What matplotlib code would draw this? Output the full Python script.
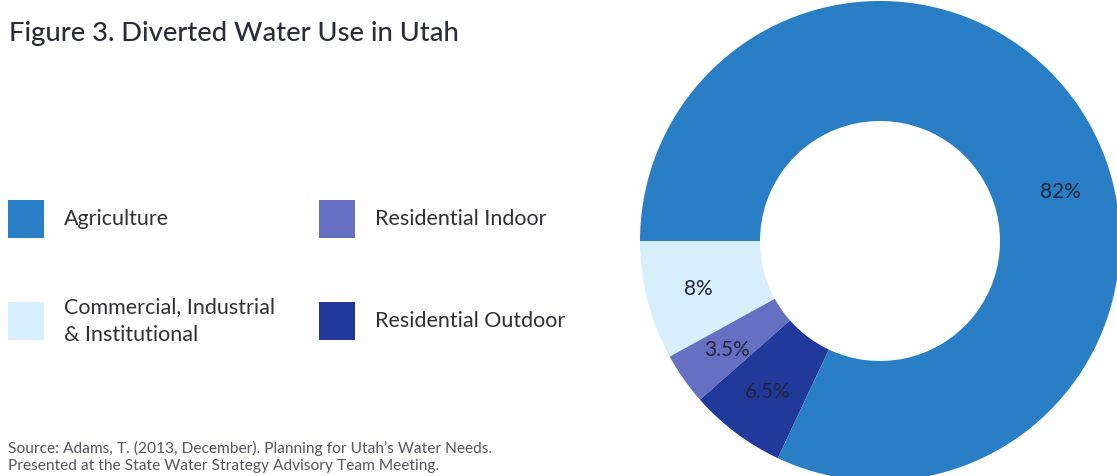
import matplotlib.pyplot as plt
from matplotlib.patches import Rectangle
import numpy as np

W, H = 1117, 477

# wedge order, counter-clockwise from 9 o'clock
categories = ["Commercial, Industrial\n& Institutional", "Residential Indoor",
              "Residential Outdoor", "Agriculture"]
shares = [8, 3.5, 6.5, 82]
colors = ["#d6effb", "#6670c2", "#20399a", "#2a7ec6"]

# legend layout: (column, row) for each category
legend_slots = [(0, 1), (1, 0), (1, 1), (0, 0)]

title = "Figure 3. Diverted Water Use in Utah"
source = ("Source: Adams, T. (2013, December). Planning for Utah\u2019s Water Needs.\n"
          "Presented at the State Water Strategy Advisory Team Meeting.")

plt.rcParams["font.family"] = ["Lato", "DejaVu Sans"]


def fx(x):
    return x / W


def fy(y):
    return 1 - y / H


fig = plt.figure(figsize=(W / 100, H / 100), dpi=100)
fig.patch.set_facecolor("white")

# donut: centre (880, 242) px, outer radius 240 px
R = 240
ax = fig.add_axes([fx(880 - R), fy(242 + R), 2 * R / W, 2 * R / H])
wedges, _, autotexts = ax.pie(
    shares, colors=colors, startangle=180, counterclock=True,
    radius=1.0, wedgeprops=dict(width=0.5, linewidth=0),
    autopct=lambda p: f"{round(p, 1):g}%", pctdistance=0.78,
    textprops=dict(color="#23263c", fontsize=15),
)
# the large wedge's label sits lower on the ring
ang = np.deg2rad(15.5)
autotexts[3].set_position((0.78 * np.cos(ang), 0.78 * np.sin(ang)))
ax.set_xlim(-1, 1)
ax.set_ylim(-1, 1)
ax.set_aspect("equal")
ax.axis("off")

fig.text(fx(9), fy(34), title, fontsize=19.7, color="#2b2c3a",
         fontweight="medium", va="center", ha="left")

col_x = [8, 319]
row_y = [220, 322]
for cat, col, (c, r) in zip(categories, colors, legend_slots):
    x0, yc = col_x[c], row_y[r]
    fig.patches.append(Rectangle((fx(x0), fy(yc + 19)), 36 / W, 38 / H,
                                 transform=fig.transFigure, facecolor=col,
                                 edgecolor="none"))
    fig.text(fx(x0 + 56), fy(yc - 1), cat, fontsize=15.5, color="#303038",
             va="center", ha="left", linespacing=1.5)

fig.text(fx(8), fy(457), source, fontsize=11.2, color="#55565e",
         va="center", ha="left", linespacing=1.3)

fig.savefig("out.png", dpi=100, facecolor="white")
